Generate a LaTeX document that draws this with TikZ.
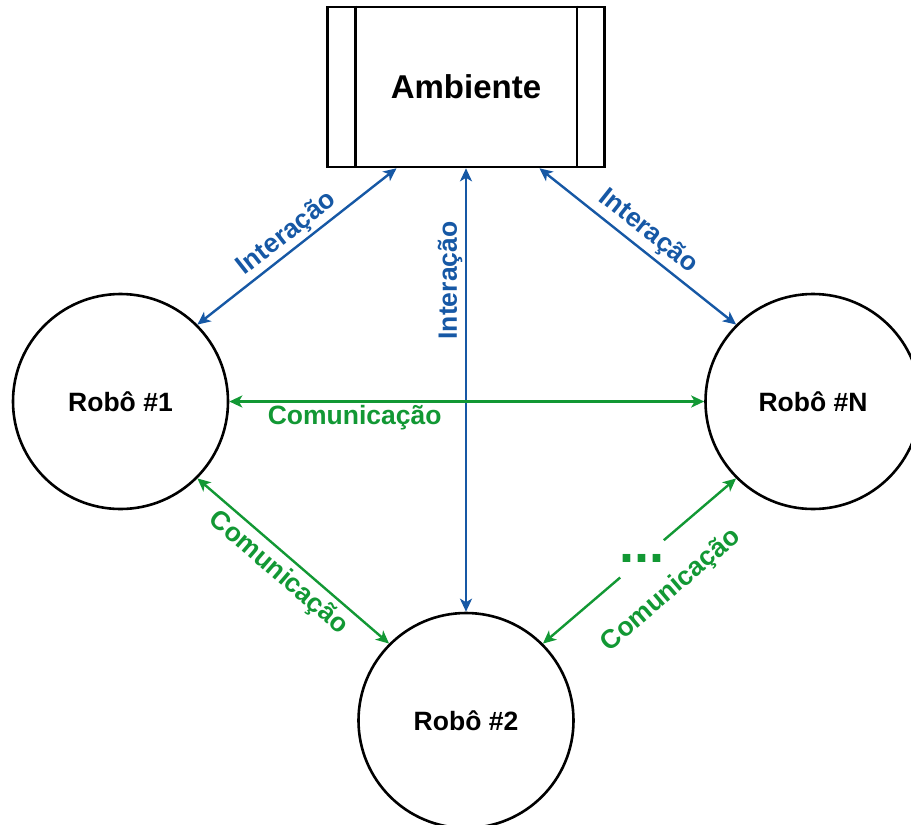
\documentclass[tikz,border=0pt]{standalone}
\usepackage{fontspec}
\setmainfont{Liberation Sans}
\usetikzlibrary{arrows.meta,calc}
\definecolor{linkblue}{RGB}{22,88,165}
\definecolor{linkgreen}{RGB}{18,152,52}

\begin{document}
\begin{tikzpicture}[x=1pt,y=-1pt,
  robot/.style={draw, circle, line width=2.6pt, minimum size=215pt, inner sep=0pt,
    font=\fontsize{26.5}{30}\selectfont\bfseries},
  envbox/.style={draw, line width=2.6pt, minimum width=277pt, minimum height=160pt,
    inner sep=0pt, font=\fontsize{33}{40}\selectfont\bfseries},
  twoway/.style={line width=2.4pt, {Stealth[length=13pt,width=12pt,inset=3.5pt]}-{Stealth[length=13pt,width=12pt,inset=3.5pt]}},
  interact/.style={twoway, draw=linkblue},
  talk/.style={twoway, draw=linkgreen},
  bluelabel/.style={text=linkblue, inner sep=0pt, font=\fontsize{26.5}{30}\selectfont\bfseries},
  greenlabel/.style={text=linkgreen, inner sep=0pt, font=\fontsize{26.5}{30}\selectfont\bfseries}
]
\useasboundingbox (0,0) rectangle (911,825);
\clip (0,0) rectangle (911,825);

% environment block with its two side bars
\node[envbox] (amb) at (466,87) {Ambiente};
\draw[line width=2.6pt] ([xshift=29pt]amb.north west) -- ([xshift=29pt]amb.south west);
\draw[line width=2.6pt] ([xshift=-29pt]amb.north east) -- ([xshift=-29pt]amb.south east);

% robots
\node[robot] (r1) at (120.5,401.5) {Robô \#1};
\node[robot] (rN) at (813,401.5) {Robô \#N};
\node[robot] (r2) at (466,720.5) {Robô \#2};

% interaction with the environment
\draw[interact] (r1.45) -- ([xshift=-69.5pt]amb.south)
  node[bluelabel, sloped, pos=0.5, yshift=16pt] {Interação};
\draw[interact] ([xshift=73.5pt]amb.south) -- (rN.135)
  node[bluelabel, sloped, pos=0.495, yshift=18pt] {Interação};
\draw[interact] (amb.south) -- (r2.north)
  node[bluelabel, pos=0.253, xshift=-16pt, rotate=90] {Interação};

% communication between robots
\draw[talk] (r1.0) -- (rN.180)
  node[greenlabel, pos=0.264, yshift=-16.5pt] {Comunicação};
\draw[talk] (r1.-45) -- (r2.135)
  node[greenlabel, sloped, pos=0.486, yshift=-19pt] {Comunicação};

% broken link towards the remaining robots
\coordinate (g1) at ($(r2.45)!0.4!(rN.-135)$);
\coordinate (g2) at ($(r2.45)!0.626!(rN.-135)$);
\draw[line width=2.4pt, draw=linkgreen, {Stealth[length=13pt,width=12pt,inset=3.5pt]}-] (r2.45) -- (g1);
\draw[line width=2.4pt, draw=linkgreen, -{Stealth[length=13pt,width=12pt,inset=3.5pt]}] (g2) -- (rN.-135);
\node[greenlabel, font=\fontsize{54}{60}\selectfont\bfseries] (dots) at ($(r2.45)!0.513!(rN.-135)$) {...};
\path (r2.45) -- (rN.-135)
  node[greenlabel, sloped, pos=0.519, yshift=-43pt] {Comunicação};
\end{tikzpicture}
\end{document}
